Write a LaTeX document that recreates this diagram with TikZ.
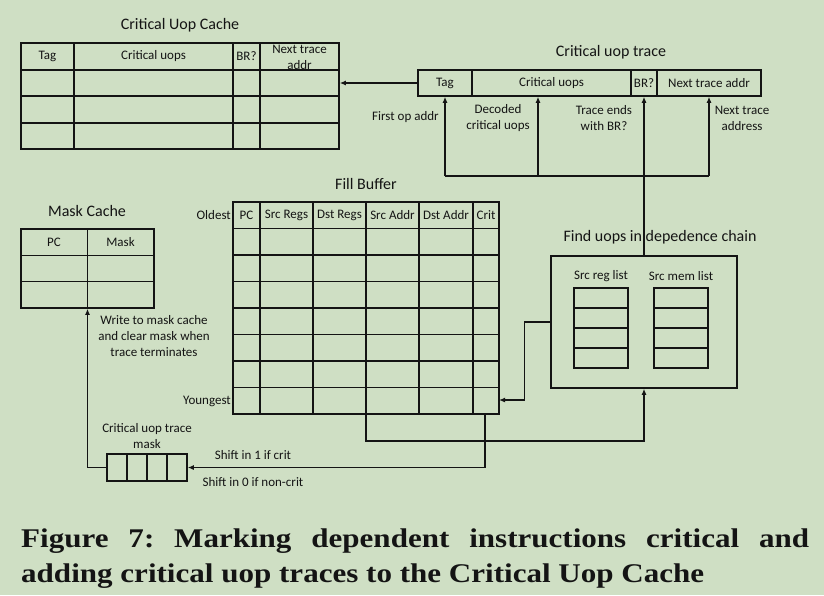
\documentclass[tikz,border=0pt]{standalone}
\usepackage{fontspec}
\setmainfont{Carlito}
\newfontfamily\capfont{Liberation Serif}[FakeStretch=1.15]
\usepackage{tikz}
\usetikzlibrary{positioning}
\usetikzlibrary{arrows.meta}
\frenchspacing

\definecolor{bggreen}{RGB}{207,223,196}
\definecolor{ink}{RGB}{20,20,20}

\tikzset{
  tbl/.style={draw=ink, line width=1.5pt, inner sep=0pt},
  lbl/.style={font=\fontsize{13}{16}\selectfont, text=ink, align=center, inner sep=0pt},
  ttl/.style={font=\fontsize{16}{19}\selectfont, text=ink, inner sep=0pt},
  wire/.style={draw=ink, line width=1.3pt},
  arr/.style={wire, -{Latex[length=6pt,width=5pt]}},
}

\begin{document}
\begin{tikzpicture}[x=1pt,y=-1pt]
        \fill[bggreen] (0,0) rectangle (824,595);
        \useasboundingbox (0,0) rectangle (824,595);

        % critical uop cache
        \node[ttl] (cachetitle) at (180,25) {Critical Uop Cache};
        \node[tbl, minimum width=318pt, minimum height=106pt] (cache) at (180,96) {};
        \foreach \y in {70,96,123} \draw[tbl] (21,\y) -- (339,\y);
        \foreach \x in {74,233,260} \draw[tbl] (\x,43) -- (\x,149);
        \node[lbl] (ctag) at (47.5,56.5) {Tag};
        \node[lbl] (cuops) at (153.5,56.5) {Critical uops};
        \node[lbl] (cbr) at (246.5,56.5) {BR?};
        \node[lbl] (cnext) at (299.5,57.5) {Next trace\\addr};

        % critical uop trace
        \node[ttl] (tracetitle) at (611,52) {Critical uop trace};
        \node[tbl, minimum width=343pt, minimum height=26pt] (trace) at (589.5,83) {};
        \foreach \x in {472,631,657} \draw[tbl] (\x,70) -- (\x,96);
        \node[lbl] (ttag) at (445,83) {Tag};
        \node[lbl] (tuops) at (551.5,83) {Critical uops};
        \node[lbl] (tbr) at (644,83) {BR?};
        \node[lbl] (tnext) at (709,83) {Next trace addr};
        \draw[arr] (trace.west) -- (trace.west -| cache.east);

        \node[lbl] (firstop) at (405.5,117) {First op addr};
        \node[lbl] (decoded) at (498,118) {Decoded\\critical uops};
        \node[lbl] (endsbr) at (604,118) {Trace ends\\with BR?};
        \node[lbl] (nextaddr) at (742,118) {Next trace\\address};

        \coordinate (tapA) at (445,176);
        \coordinate (tapB) at (538,176);
        \coordinate (tapD) at (709,176);
        \draw[wire] (tapA) -- (tapD);
        \foreach \t in {tapA,tapB,tapD} \draw[arr] (\t) -- (\t |- trace.south);

        % fill buffer
        \node[ttl] (filltitle) at (366,184) {Fill Buffer};
        \node[tbl, minimum width=266pt, minimum height=212pt] (fill) at (366,308) {};
        \foreach \x in {260,313,366,419,473} \draw[tbl] (\x,202) -- (\x,414);
        \foreach \i in {1,...,7} \draw[tbl] (233,202+26.5*\i) -- (499,202+26.5*\i);
        \node[lbl] (fpc) at (246.5,215.5) {PC};
        \node[lbl] (fsrcr) at (286.5,215.5) {Src Regs};
        \node[lbl] (fdstr) at (339.5,215.5) {Dst Regs};
        \node[lbl] (fsrca) at (392.5,215.5) {Src Addr};
        \node[lbl] (fdsta) at (446,215.5) {Dst Addr};
        \node[lbl] (fcrit) at (486,215.5) {Crit};
        \node[lbl, anchor=east] (oldest) at (231,215.5) {Oldest};
        \node[lbl, anchor=east] (youngest) at (231,401) {Youngest};

        % find uops in dependence chain
        \node[ttl] (findtitle) at (660,237) {Find uops in depedence chain};
        \node[tbl, minimum width=186pt, minimum height=132pt] (find) at (644,322) {};
        \node[lbl] (reglbl) at (601,276) {Src reg list};
        \node[tbl, minimum width=54pt, minimum height=80pt] (reglist) at (601,328) {};
        \foreach \y in {308,328,348} \draw[tbl] (574,\y) -- (628,\y);
        \node[lbl] (memlbl) at (681,276) {Src mem list};
        \node[tbl, minimum width=54pt, minimum height=80pt] (memlist) at (681,328) {};
        \foreach \y in {308,328,348} \draw[tbl] (654,\y) -- (708,\y);
        \draw[arr] (find.north) -- (find.north |- trace.south);

        \coordinate (fillin) at (499,400);
        \coordinate (srcout) at (366,414);
        \coordinate (critout) at (485,414);
        \draw[arr] (find.west) -- ++(-26,0) |- (fillin);
        \draw[arr] (srcout) -- ++(0,27) -| (find.south);

        % mask cache and trace mask
        \node[ttl] (masktitle) at (87,211) {Mask Cache};
        \node[tbl, minimum width=133pt, minimum height=79pt] (mcache) at (87.5,268.5) {};
        \foreach \y in {255.3,281.7} \draw[tbl] (21,\y) -- (154,\y);
        \draw[tbl] (mcache.north) -- (mcache.south);
        \node[lbl] (mpc) at (54,242) {PC};
        \node[lbl] (mmask) at (120.5,242) {Mask};

        \node[tbl, minimum width=80pt, minimum height=27pt] (mreg) at (147,467.5) {};
        \foreach \x in {127,147,167} \draw[tbl] (\x,454) -- (\x,481);
        \node[lbl] (mreglbl) at (147,436) {Critical uop trace\\mask};
        \draw[arr] (critout) |- (mreg.east);
        \draw[arr] (mreg.west) -| (mcache.south);

        \node[lbl] (writelbl) at (154,336) {Write to mask cache\\and clear mask when\\trace terminates};
        \node[lbl] (shift1) at (253,455) {Shift in 1 if crit};
        \node[lbl] (shift0) at (253,482) {Shift in 0 if non-crit};

        % caption
        \node[anchor=north west, text width=788pt, align=justify, inner sep=0pt, text=ink,
              font=\capfont\bfseries\fontsize{27}{35}\selectfont] (caption) at (21,529)
        {Figure 7: Marking dependent instructions critical and\linebreak adding critical uop traces to the Critical Uop Cache};
\end{tikzpicture}
\end{document}
